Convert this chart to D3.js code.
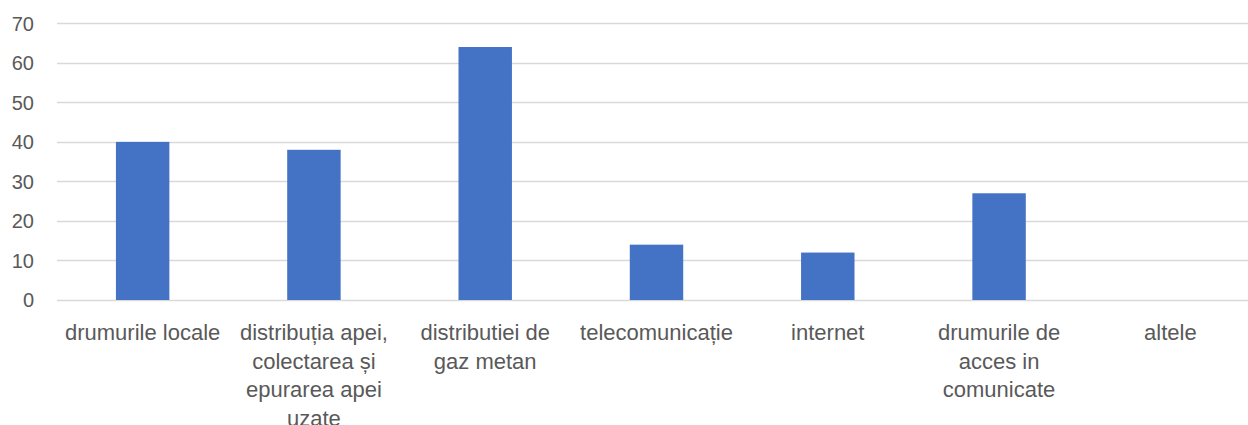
<!DOCTYPE html>
<html>
<head>
<meta charset="utf-8">
<script src="https://cdn.jsdelivr.net/npm/d3@7"></script>
<style>
  html, body { margin: 0; padding: 0; background: #fff; }
  svg { display: block; }
</style>
</head>
<body>
<svg id="chart" width="1248" height="425"></svg>
<script>
// categories (line breaks as in the original chart)
const categories = [
    "drumurile locale",
    "distribuția apei,\ncolectarea și\nepurarea apei\nuzate",
    "distributiei de\ngaz metan",
    "telecomunicație",
    "internet",
    "drumurile de\nacces in\ncomunicate",
    "altele"
];
const values = [40, 38, 64, 14, 12, 27, 0];
const yTicks = [0, 10, 20, 30, 40, 50, 60, 70];

const svg = d3.select("#chart");
const margin = { left: 57, right: -8, top: 23.3, bottom: 125 };
const width = 1248, height = 425;

const x = d3.scaleBand()
    .domain(categories)
    .range([margin.left, width - margin.right])
    .paddingInner(0.688)
    .paddingOuter(0.344);

const y = d3.scaleLinear()
    .domain([0, 70])
    .range([300, margin.top]);

const textColor = "#595959";
const fontFamily = "'Liberation Sans', Arial, sans-serif";

// gridlines
svg.append("g")
    .selectAll("line")
    .data(yTicks)
    .join("line")
    .attr("x1", margin.left)
    .attr("x2", width)
    .attr("y1", d => Math.round(y(d)) + 0.5)
    .attr("y2", d => Math.round(y(d)) + 0.5)
    .attr("stroke", "#d9d9d9")
    .attr("stroke-width", 1.3);

// y labels
svg.append("g")
    .attr("font-family", fontFamily)
    .attr("font-size", 20)
    .attr("fill", textColor)
    .attr("text-anchor", "end")
    .selectAll("text")
    .data(yTicks)
    .join("text")
    .attr("x", 34)
    .attr("y", d => y(d))
    .attr("dy", "0.36em")
    .text(d => d);

// bars
svg.append("g")
    .selectAll("rect")
    .data(values)
    .join("rect")
    .attr("x", (d, i) => x(categories[i]))
    .attr("width", x.bandwidth())
    .attr("y", d => y(d))
    .attr("height", d => y(0) - y(d))
    .attr("fill", "#4472c4");

// category labels
const lbl = svg.append("g")
    .attr("font-family", fontFamily)
    .attr("font-size", 22)
    .attr("fill", textColor)
    .attr("text-anchor", "middle")
    .selectAll("text")
    .data(categories)
    .join("text")
    .attr("x", d => x(d) + x.bandwidth() / 2)
    .attr("y", 340);

lbl.selectAll("tspan")
    .data(d => d.split("\n"))
    .join("tspan")
    .attr("x", function() { return d3.select(this.parentNode).attr("x"); })
    .attr("dy", (d, i) => i === 0 ? 0 : 28.5)
    .text(d => d);
</script>
</body>
</html>
